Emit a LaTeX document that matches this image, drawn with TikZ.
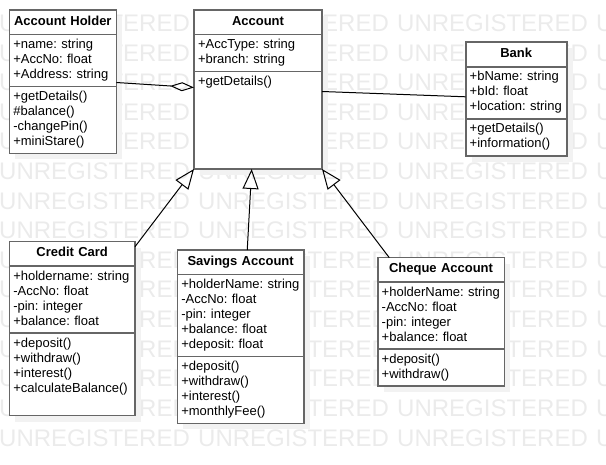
\documentclass[tikz,border=0pt]{standalone}
\usepackage{fontspec}
\setmainfont{Liberation Sans}
\usetikzlibrary{positioning, arrows.meta, shadows}
\frenchspacing
\tikzset{
  x=1pt, y=1pt,
  every node/.style={font=\fontsize{13}{15}\selectfont},
  part/.style={draw=black!60, line width=1.6pt, fill=white, outer sep=0pt,
    inner xsep=4pt, inner ysep=3.5pt, text width=#1, align=left,
    general shadow={fill=black!5, shadow xshift=6pt, shadow yshift=-6pt},
    execute at begin node=\strut, execute at end node=\strut},
  head/.style={part=#1, align=center, inner ysep=4.75pt,
    font=\fontsize{13}{15}\selectfont\bfseries},
  wmark/.style={text=black!8, inner sep=0pt, font=\fontsize{24}{28}\selectfont},
  link/.style={draw=black, line width=1pt},
  inherit/.style={link, -{Triangle[open, length=20pt, width=16pt]}},
  aggr/.style={link, -{Diamond[open, length=24pt, width=9pt]}},
}
\begin{document}
\begin{tikzpicture}
  \useasboundingbox (0,0) rectangle (606,-465);
  \foreach \r in {0,...,14}
    \foreach \c in {0,...,3}
      \node[wmark, anchor=base west] (wm-\r-\c) at ({\c*199-1}, {-31.6-29.6*\r}) {UNREGISTERED};

  \node[head=99pt, anchor=north west] (holder) at (9.3,-10) {Account Holder};
  \node[part=99pt, below=0pt of holder] (holderA) {+name: string\\+AccNo: float\\+Address: string};
  \node[part=99pt, below=0pt of holderA] (holderO) {+getDetails()\\\#balance()\\-changePin()\\+miniStare()};

  \node[head=120pt, anchor=north west] (acc) at (194,-10) {Account};
  \node[part=120pt, below=0pt of acc] (accA) {+AccType: string\\+branch: string};
  \node[part=120pt, below=0pt of accA, text depth=80pt] (accO) {+getDetails()};

  \node[head=93pt, anchor=north west] (bank) at (465.7,-42.3) {Bank};
  \node[part=93pt, below=0pt of bank] (bankA) {+bName: string\\+bId: float\\+location: string};
  \node[part=93pt, below=0pt of bankA] (bankO) {+getDetails()\\+information()};

  \node[head=117.7pt, anchor=north west] (card) at (9.3,-241.7) {Credit Card};
  \node[part=117.7pt, below=0pt of card] (cardA) {+holdername: string\\-AccNo: float\\-pin: integer\\+balance: float};
  \node[part=117.7pt, below=0pt of cardA, text depth=65pt] (cardO) {+deposit()\\+withdraw()\\+interest()\\+calculateBalance()};

  \node[head=118.7pt, anchor=north west] (sav) at (177.3,-250) {Savings Account};
  \node[part=118.7pt, below=0pt of sav] (savA) {+holderName: string\\-AccNo: float\\-pin: integer\\+balance: float\\+deposit: float};
  \node[part=118.7pt, below=0pt of savA] (savO) {+deposit()\\+withdraw()\\+interest()\\+monthlyFee()};

  \node[head=118.6pt, anchor=north west] (chq) at (377.7,-257.7) {Cheque Account};
  \node[part=118.6pt, below=0pt of chq] (chqA) {+holderName: string\\-AccNo: float\\-pin: integer\\+balance: float};
  \node[part=118.6pt, below=0pt of chqA] (chqO) {+deposit()\\+withdraw()};

  \draw[aggr] ([yshift=-22pt]holderA.east) -- ([yshift=-16pt]accO.north west);
  \draw[link] ([yshift=-20pt]accO.north east) -- ([yshift=-4pt]bankA.west);
  \draw[inherit] ([yshift=-5pt]card.north east) -- (accO.south west);
  \draw[inherit] ([xshift=6.6pt]sav.north) -- ([xshift=-6.3pt]accO.south);
  \draw[inherit] ([xshift=11.6pt]chq.north west) -- (accO.south east);
\end{tikzpicture}
\end{document}
